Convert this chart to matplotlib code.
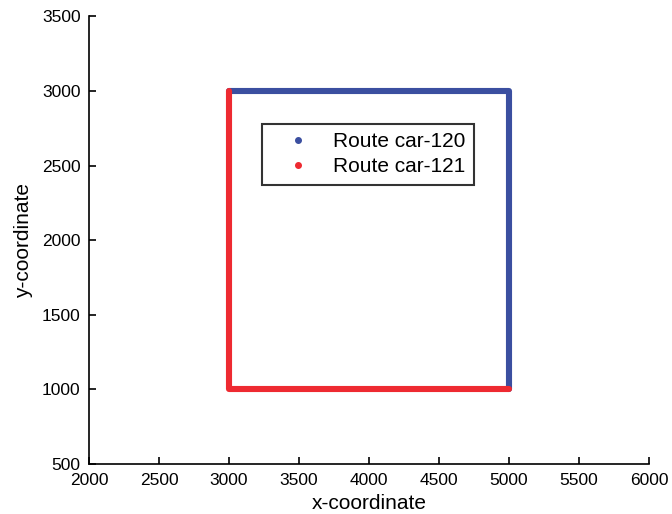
import numpy as np
import matplotlib.pyplot as plt
from matplotlib.lines import Line2D

# waypoints of each route (x, y)
car120_x = [3000, 5000, 5000]
car120_y = [3000, 3000, 1000]
car121_x = [3000, 3000, 5000]
car121_y = [3000, 1000, 1000]
labels = ['Route car-120', 'Route car-121']
colors = ['#3b4fa0', '#ee2a31']

plt.rcParams['font.family'] = ['Liberation Sans', 'DejaVu Sans']

fig = plt.figure(figsize=(6.72, 5.14), dpi=100)
ax = fig.add_axes([0.1324, 0.0982, 0.8334, 0.8697])

ax.plot(car120_x, car120_y, color=colors[0], lw=4.4, solid_capstyle='round', solid_joinstyle='round')
ax.plot(car121_x, car121_y, color=colors[1], lw=4.4, solid_capstyle='round', solid_joinstyle='round')

ax.set_xlim(2000, 6000)
ax.set_ylim(500, 3500)
ax.set_xticks(np.arange(2000, 6001, 500))
ax.set_yticks(np.arange(500, 3501, 500))
ax.spines['top'].set_visible(False)
ax.spines['right'].set_visible(False)
for s in ['left', 'bottom']:
    ax.spines[s].set_linewidth(1.2)
ax.tick_params(direction='in', length=5, width=1.2, labelsize=12.5)
ax.tick_params(axis='x', pad=7)
ax.tick_params(axis='y', pad=6)

ax.set_xlabel('x-coordinate', fontsize=15)
ax.set_ylabel('y-coordinate', fontsize=15)
ax.xaxis.set_label_coords(0.5, -0.068)
ax.yaxis.set_label_coords(-0.1, 0.5)

handles = [Line2D([], [], ls='none', marker='o', ms=4, color=c) for c in colors]
leg = ax.legend(handles, labels, loc='upper left', bbox_to_anchor=(0.309, 0.76),
                borderaxespad=0, fancybox=False, fontsize=15, handlelength=2.7,
                handletextpad=0.3, borderpad=0.4, labelspacing=0.3)
leg.get_frame().set_edgecolor('black')
leg.get_frame().set_linewidth(1.5)

fig.savefig('out.png', dpi=100)
